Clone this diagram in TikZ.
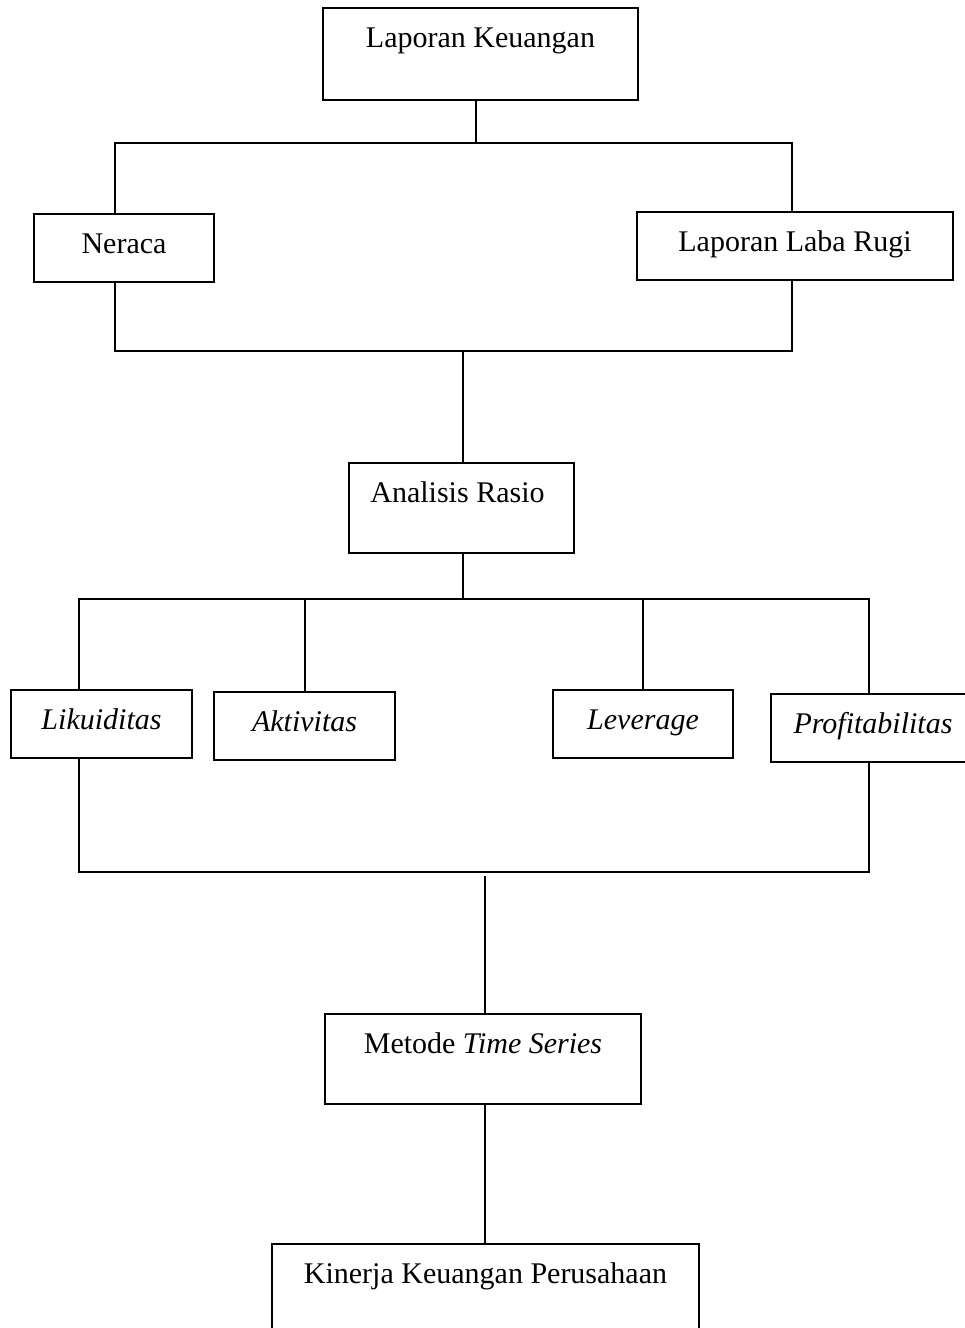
\documentclass[tikz,border=0pt]{standalone}
\usepackage{fontspec}
\setmainfont{Liberation Serif}
\begin{document}
\begin{tikzpicture}[x=1pt,y=-1pt,
  conn/.style={line width=2pt},
  box/.style={draw,line width=2pt,anchor=north west,inner sep=0pt,outer sep=0pt,
    align=center,font=\fontsize{30}{36}\selectfont,text height=39pt}]
\useasboundingbox (0,0) rectangle (964,1328);
\node[box,minimum width=315pt,text depth=53pt] (lk) at (323,8) {Laporan Keuangan};
\node[box,minimum width=180pt,text depth=29pt] (ner) at (34,214) {Neraca};
\node[box,minimum width=316pt,text depth=29pt] (llr) at (637,212) {Laporan Laba Rugi};
\node[box,minimum width=225pt,text depth=51pt] (ar) at (349,463) {Analisis Rasio\hspace*{8pt}};
\node[box,minimum width=181pt,text depth=29pt] (lik) at (11,690) {\textit{Likuiditas}};
\node[box,minimum width=181pt,text depth=29pt] (akt) at (214,692) {\textit{Aktivitas}};
\node[box,minimum width=180pt,text depth=29pt] (lev) at (553,690) {\textit{Leverage}};
\node[box,minimum width=204pt,text depth=29pt] (prof) at (771,694) {\textit{Profitabilitas}};
\node[box,minimum width=316pt,text depth=51pt] (mts) at (325,1014) {Metode \textit{Time Series}};
\node[box,minimum width=427pt,text depth=61pt] (kkp) at (272,1244) {Kinerja Keuangan Perusahaan};
\coordinate (b1m) at (476,143);
\coordinate (b1l) at (115,143); \coordinate (b1r) at (792,143);
\coordinate (b2l) at (115,351); \coordinate (b2r) at (792,351);
\coordinate (b2m) at (463,351);
\coordinate (b3l) at (79,599);  \coordinate (b3r) at (869,599);
\coordinate (b4l) at (79,872);  \coordinate (b4r) at (869,872);
\coordinate (b4m) at (485,876);
\draw[conn] (b1m |- lk.south) -- (b1m);
\draw[conn] (b1l |- ner.north) -- (b1l) -- (b1r) -- (b1r |- llr.north);
\draw[conn] (b2l |- ner.south) -- (b2l) -- (b2r) -- (b2r |- llr.south);
\draw[conn] (b2m) -- (b2m |- ar.north);
\draw[conn] (b2m |- ar.south) -- (b2m |- b3l);
\draw[conn] (b3l |- lik.north) -- (b3l) -- (b3r) -- (b3r |- prof.north);
\draw[conn] (akt.north) -- (akt.north |- b3l);
\draw[conn] (lev.north) -- (lev.north |- b3l);
\draw[conn] (b4l |- lik.south) -- (b4l) -- (b4r) -- (b4r |- prof.south);
\draw[conn] (b4m) -- (b4m |- mts.north);
\draw[conn] (b4m |- mts.south) -- (b4m |- kkp.north);
\end{tikzpicture}
\end{document}
